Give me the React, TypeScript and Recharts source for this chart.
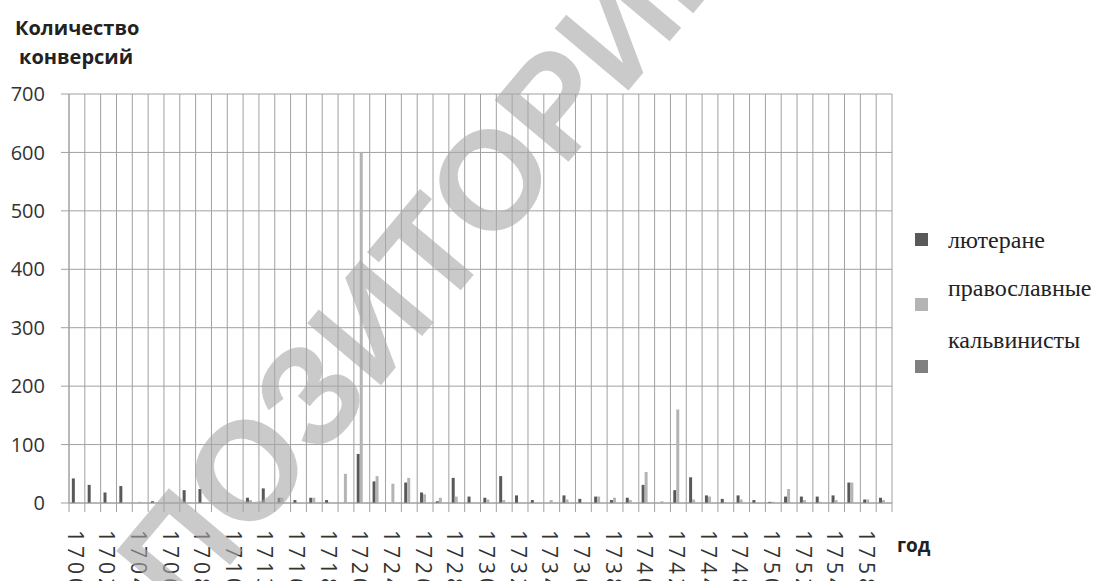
import React from 'react';
import { BarChart, Bar, XAxis, YAxis, CartesianGrid } from 'recharts';

const years = [
  '1700', '1701', '1702', '1703', '1704', '1705', '1706', '1707', '1708', '1709',
  '1710', '1712', '1713', '1714', '1716', '1717', '1718', '1719', '1720', '1722',
  '1724', '1725', '1726', '1727', '1728', '1729', '1730', '1731', '1732', '1733',
  '1734', '1735', '1736', '1737', '1738', '1739', '1740', '1741', '1742', '1743',
  '1744', '1746', '1748', '1749', '1750', '1751', '1752', '1753', '1754', '1756',
  '1758', '1759',
];
const lutherans = [
  42, 31, 18, 29, 0, 3, 0, 22, 24, 0,
  0, 9, 25, 9, 5, 9, 5, 0, 84, 37,
  0, 35, 18, 3, 43, 11, 9, 46, 13, 5,
  0, 13, 7, 11, 5, 9, 31, 0, 22, 44,
  13, 7, 13, 5, 2, 11, 11, 11, 13, 35,
  6, 9,
];
const orthodox = [
  0, 0, 0, 0, 2, 0, 0, 0, 0, 2,
  0, 5, 0, 9, 0, 9, 0, 50, 600, 46,
  33, 43, 15, 9, 11, 0, 6, 5, 0, 0,
  5, 6, 0, 11, 9, 5, 53, 3, 160, 6,
  11, 0, 6, 0, 2, 24, 5, 2, 5, 35,
  6, 5,
];
const calvinists = [
  0, 0, 0, 0, 0, 0, 0, 0, 0, 0,
  0, 0, 0, 0, 0, 0, 0, 0, 0, 0,
  0, 0, 0, 0, 0, 0, 0, 0, 0, 0,
  0, 0, 0, 0, 0, 0, 0, 0, 0, 0,
  0, 0, 0, 0, 0, 0, 0, 0, 0, 0,
  0, 0,
];
const yTicks = [0, 100, 200, 300, 400, 500, 600, 700];
const seriesKeys = ['l', 'o', 'c'];
const seriesNames = ['лютеране', 'православные', 'кальвинисты'];
const seriesColors = ['#595959', '#b4b4b4', '#808080'];
const yTitle = ['Количество', 'конверсий'];
const xTitle = 'год';
const watermark = 'ПОЗИТОРИЙ';

const data = years.map((y, i) => ({ year: y, l: lutherans[i], o: orthodox[i], c: calvinists[i] }));

const W = 1094;
const H = 581;
const M = { top: 94, right: 202, bottom: 0, left: 0 };
const Y_W = 69;
const X_H = 78;
const PLOT_W = W - M.left - M.right - Y_W;
const GRID = '#a0a0a0';
const LABEL = '#333333';
const SERIF = "'Liberation Serif', 'DejaVu Serif', 'Times New Roman', serif";

const XTick = (props: any) => {
  const { x, y, payload, index } = props;
  const bw = PLOT_W / years.length;
  const cx = payload && typeof payload.coordinate === 'number' ? payload.coordinate : x;
  const left = cx - bw / 2;
  return (
    <g>
      <line x1={left} x2={left} y1={y} y2={y + 9} stroke={GRID} />
      {index === years.length - 1 && (
        <line x1={left + bw} x2={left + bw} y1={y} y2={y + 9} stroke={GRID} />
      )}
      {index % 2 === 0 && (
        <text
          transform={`translate(${cx - 2},${y + 27}) rotate(90)`}
          dy="0.35em"
          textAnchor="start"
          fill={LABEL}
          fontSize={21}
          letterSpacing={4}
          fontFamily="Open Sans"
        >
          {payload.value}
        </text>
      )}
    </g>
  );
};

const legendY = [
  { sq: 233, base: 248 },
  { sq: 298, base: 296 },
  { sq: 360, base: 348 },
];

export default function App() {
  return (
    <div style={{ position: 'absolute', left: 0, top: 0, width: W, height: H, background: '#fff', overflow: 'hidden' }}>
      <BarChart
        width={W}
        height={H}
        data={data}
        margin={M}
        barCategoryGap="18%"
        barGap={0}
      >
        <CartesianGrid
          stroke={GRID}
          verticalCoordinatesGenerator={({ offset }: any) =>
            years.map((_, i) => offset.left + (i * offset.width) / years.length).concat(offset.left + offset.width)
          }
        />
        <XAxis
          dataKey="year"
          interval={0}
          tickSize={0}
          tickMargin={0}
          tickLine={false}
          axisLine={{ stroke: GRID }}
          height={X_H}
          tick={XTick}
        />
        <YAxis
          type="number"
          domain={[0, 700]}
          ticks={yTicks}
          width={Y_W}
          tickSize={8}
          tickMargin={16}
          axisLine={{ stroke: GRID }}
          tickLine={{ stroke: GRID }}
          tick={{ fill: LABEL, fontSize: 20, fontFamily: 'Open Sans' }}
        />
        {seriesKeys.map((k, i) => (
          <Bar key={k} dataKey={k} name={seriesNames[i]} fill={seriesColors[i]} isAnimationActive={false} />
        ))}
      </BarChart>
      <svg
        width={W}
        height={H}
        style={{ position: 'absolute', left: 0, top: 0, pointerEvents: 'none' }}
      >
        <text x={15} y={35} fontFamily="Open Sans" fontWeight="bold" fontSize={20} fill="#222">{yTitle[0]}</text>
        <text x={19} y={64} fontFamily="Open Sans" fontWeight="bold" fontSize={20} fill="#222">{yTitle[1]}</text>
        <text x={897} y={552} fontFamily="Open Sans" fontWeight="bold" fontSize={19} fill="#222">{xTitle}</text>
        {seriesNames.map((n, i) => (
          <g key={n}>
            <rect x={915} y={legendY[i].sq} width={13} height={13} fill={seriesColors[i]} />
            <text x={948} y={legendY[i].base} fontFamily={SERIF} fontSize={24} fill="#222">{n}</text>
          </g>
        ))}
        <text
          transform="translate(184,620) rotate(-50)"
          fontFamily="Liberation Sans"
          fontWeight="bold"
          fontSize={140}
          fill="#a8a8a8"
          opacity={0.6}
        >
          {watermark}
        </text>
      </svg>
    </div>
  );
}
